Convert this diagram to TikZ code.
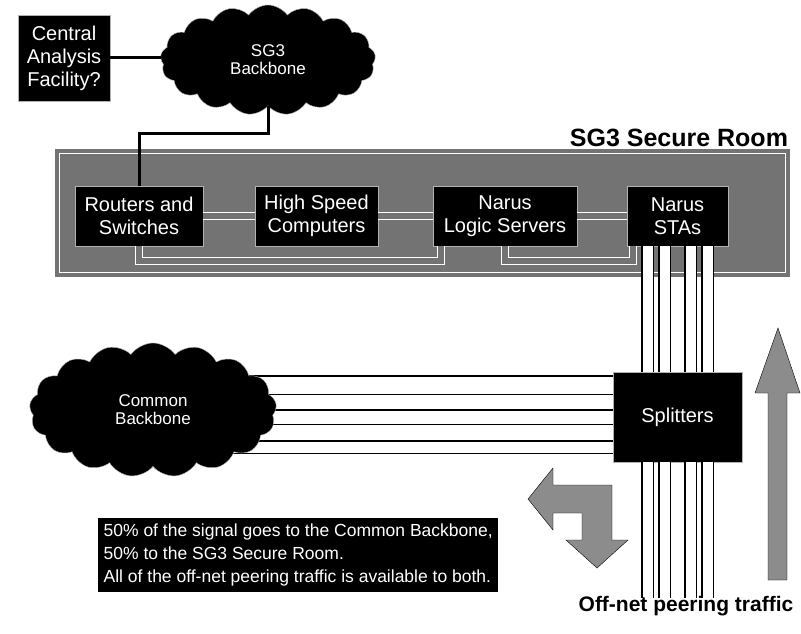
\documentclass[tikz,border=0pt]{standalone}
\usepackage{fontspec}
\setmainfont{Liberation Sans}
\usetikzlibrary{shapes.symbols,positioning,backgrounds}
\definecolor{roomgray}{gray}{0.45}
\definecolor{arrowgray}{gray}{0.55}

\begin{document}
\begin{tikzpicture}[x=1pt, y=-1pt,
	blackbox/.style={fill=black, draw=gray!60, thin, text=white, align=center, inner sep=0pt, font=\fontsize{20}{23}\selectfont},
	blackcloud/.style={cloud, cloud puffs=17, cloud puff arc=110, cloud ignores aspect, fill=black, draw=gray!60, text=white, align=center, inner sep=0pt, font=\fontsize{17}{18}\selectfont},
	wire/.style={line width=3pt},
	roompipe/.style={draw=white, line width=1pt, double=roomgray, double distance=6pt},
	pipe/.style={draw=black, line width=1.2pt, double=white, double distance=#1},
	pipe/.default=10pt]
	\useasboundingbox (0,0) rectangle (801,634);

	%SG3 side:
	\node (caf) [blackbox, minimum width=92, minimum height=86] at (64,58) {Central\\Analysis\\Facility?};
	\node (sg3) [blackcloud, minimum width=215, minimum height=110] at (268,60) {SG3\\Backbone};
	\draw [wire] (caf.east) -- (caf.east -| sg3.west);

	%Secure room:
	\node (room) [fill=roomgray, minimum width=735, minimum height=128, inner sep=0pt] at (422.5,213) {};
	\draw [white, line width=1pt] ([shift={(5,5)}]room.north west) rectangle ([shift={(-5,-5)}]room.south east);
	\node (room label) [anchor=south east, inner sep=2pt, font=\bfseries\fontsize{25}{25}\selectfont] at (room.north east) {SG3 Secure Room};

	\node (routers) [blackbox, minimum width=128, minimum height=60] at (139,216) {Routers and\\Switches};
	\node (hsc) [blackbox, minimum width=123, minimum height=60] at (316.5,216) {High Speed\\Computers};
	\node (nls) [blackbox, minimum width=144, minimum height=60] at (505,216) {Narus\\Logic Servers};
	\node (stas) [blackbox, minimum width=101, minimum height=60] at (677.5,216) {Narus\\STAs};

	\draw [wire] (sg3.south) -- ++(0,27) -| (routers.north);

	\draw [roompipe] (routers.east) -- (hsc.west);
	\draw [roompipe] (hsc.east) -- (nls.west);
	\draw [roompipe] (nls.east) -- (stas.west);
	\draw [roompipe] (routers.south) -- ++(0,15) -| ([xshift=8]nls.south west);
	\draw [roompipe] (nls.south) -- ++(0,15) -| ([xshift=6]stas.south west);

	%Splitters and taps:
	\node (split) [blackbox, minimum width=129, minimum height=90] at (677.5,417) {Splitters};
	\coordinate (tap end) at (677.5,598);
	\foreach \dx in {-30,-13,13,30}
	{
		\draw [pipe] ([xshift=\dx]stas.south) -- ([xshift=\dx]split.north);
		\draw [pipe] ([xshift=\dx]split.south) -- ([xshift=\dx]tap end);
	}

	%Common backbone:
	\node (common) [blackcloud, minimum width=247, minimum height=134] at (153,410) {Common\\Backbone};
	\begin{scope}[on background layer]
		\foreach \dy/\w in {32/17pt, 0/13pt, -30/11pt}
			\draw [pipe=\w] ([yshift=\dy]split.west) -- ([yshift=\dy]split.west -| common.center);
	\end{scope}

	%Arrows:
	\draw [fill=arrowgray, line join=miter] (528,499) -- (553,468) -- (553,485) -- (612,485) -- (612,540) -- (628,540)
		-- (597,568) -- (566,540) -- (582,540) -- (582,513) -- (553,513) -- (553,530) -- cycle;
	\draw [fill=arrowgray] (768,580) -- (768,393) -- (755,393) -- (778,328) -- (800,393) -- (787,393) -- (787,580) -- cycle;
	\node (offnet) [inner sep=0pt, font=\bfseries\fontsize{21}{21}\selectfont] at (686,606) {Off-net peering traffic};

	%Note:
	\node (note) [fill=black, text=white, anchor=north west, minimum width=400, minimum height=74, inner sep=2pt, align=left, font=\fontsize{17.5}{23}\selectfont] at (98,518)
		{50\% of the signal goes to the Common Backbone,\\50\% to the SG3 Secure Room.\\All of the off-net peering traffic is available to both.};

\end{tikzpicture}
\end{document}
